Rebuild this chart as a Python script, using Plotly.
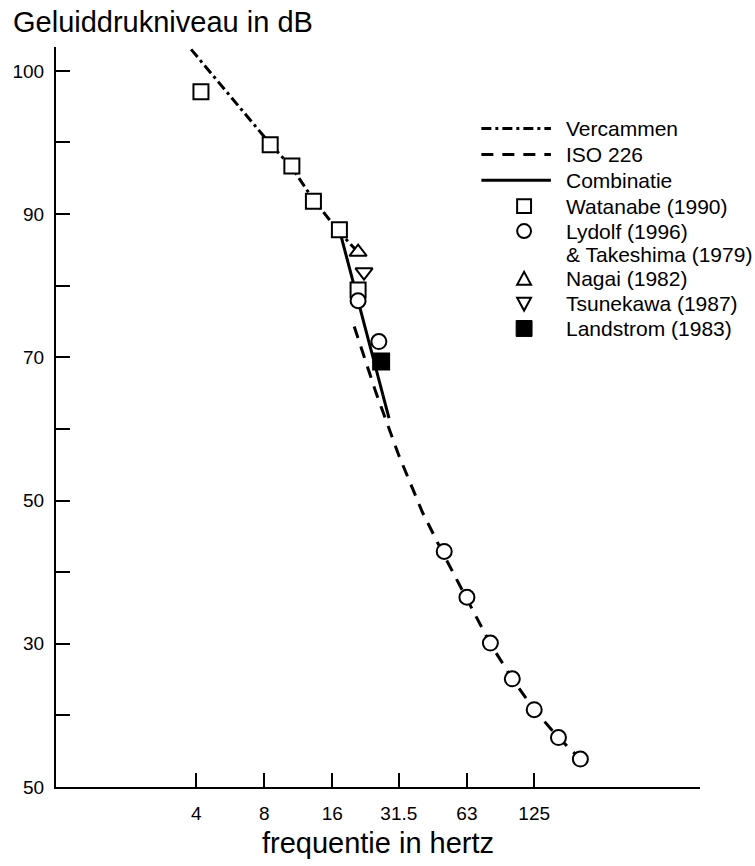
import plotly.graph_objects as go

# ---------------- data ----------------
vercammen_f = [3.8, 8.4, 10.6, 13.2, 17.2, 20.6]
vercammen_db = [113.0, 100.0, 96.5, 92.0, 87.5, 84.8]

iso_f = [20, 25, 31.5, 40, 50, 63, 80, 100, 125, 160, 200]
iso_db = [74.3, 65.0, 56.3, 48.4, 42.3, 36.2, 30.0, 25.1, 20.8, 16.9, 13.9]

comb_f = [17.2, 20.9, 25.0, 28.5]
comb_db = [87.8, 77.5, 68.3, 61.5]

watanabe_f = [4.2, 8.5, 10.6, 13.2, 17.2, 20.8]
watanabe_db = [107.1, 99.7, 96.7, 91.8, 87.8, 79.4]

lydolf_f = [20.8, 25.7, 50, 63, 80, 100, 125, 160, 200]
lydolf_db = [77.9, 72.2, 42.9, 36.5, 30.1, 25.1, 20.8, 16.9, 13.9]

nagai_f = [20.8]
nagai_db = [84.7]

tsunekawa_f = [22.1]
tsunekawa_db = [81.9]

landstrom_f = [26.3]
landstrom_db = [69.4]

x_tickvals = [4, 8, 16, 31.5, 63, 125]
x_ticktext = ["4", "8", "16", "31.5", "63", "125"]

y_tickvals = [110, 100, 90, 80, 70, 60, 50, 40, 30, 20, 10]
y_ticktext = ["100", "", "90", "", "70", "", "50", "", "30", "", "50"]

legend_labels = ["Vercammen", "ISO 226", "Combinatie", "Watanabe (1990)", "Lydolf (1996)",
                 "& Takeshima (1979)", "Nagai (1982)", "Tsunekawa (1987)", "Landstrom (1983)"]

FONT = "Liberation Sans, Arial, Helvetica, sans-serif"
VD = "10px,4px,3px,4px"
ID = "12px,9px"

# plot area in pixels
L, R, T, B = 52, 700, 47, 791
W, H = R - L, B - T


def px(x):
    return (x - L) / W


def py(y):
    return (B - y) / H


fig = go.Figure()

fig.add_trace(go.Scatter(x=vercammen_f, y=vercammen_db, mode="lines", name="Vercammen",
                         line=dict(color="black", width=3, dash=VD)))
fig.add_trace(go.Scatter(x=iso_f, y=iso_db, mode="lines", name="ISO 226",
                         line=dict(color="black", width=3, dash=ID)))
fig.add_trace(go.Scatter(x=comb_f, y=comb_db, mode="lines", name="Combinatie",
                         line=dict(color="black", width=3)))


def mk(sym, fill="white", size=15):
    return dict(symbol=sym, size=size, color=fill, line=dict(color="black", width=2))


fig.add_trace(go.Scatter(x=watanabe_f, y=watanabe_db, mode="markers", name="Watanabe (1990)",
                         marker=mk("square")))
fig.add_trace(go.Scatter(x=lydolf_f, y=lydolf_db, mode="markers",
                         name="Lydolf (1996) & Takeshima (1979)", marker=mk("circle")))
fig.add_trace(go.Scatter(x=nagai_f, y=nagai_db, mode="markers", name="Nagai (1982)",
                         marker=mk("triangle-up")))
fig.add_trace(go.Scatter(x=tsunekawa_f, y=tsunekawa_db, mode="markers", name="Tsunekawa (1987)",
                         marker=mk("triangle-down")))
fig.add_trace(go.Scatter(x=landstrom_f, y=landstrom_db, mode="markers", name="Landstrom (1983)",
                         marker=mk("square", fill="black", size=16)))

# ---------------- hand-drawn legend (key) ----------------
shapes = []
annotations = []
row_y = [129, 155, 181, 207, 232, 256, 280, 305, 330]
sx0, sx1, mx, tx = 480, 550, 523, 563

for yy, dash in zip(row_y[:3], [VD, ID, "solid"]):
    shapes.append(dict(type="line", xref="paper", yref="paper",
                       x0=px(sx0), x1=px(sx1), y0=py(yy), y1=py(yy),
                       line=dict(color="black", width=3, dash=dash)))

h = 7
# square
shapes.append(dict(type="rect", xref="paper", yref="paper",
                   x0=px(mx - h), x1=px(mx + h), y0=py(row_y[3] + h), y1=py(row_y[3] - h),
                   line=dict(color="black", width=2), fillcolor="white"))
# circle
shapes.append(dict(type="circle", xref="paper", yref="paper",
                   x0=px(mx - h), x1=px(mx + h), y0=py(row_y[4] + h), y1=py(row_y[4] - h),
                   line=dict(color="black", width=2), fillcolor="white"))
# triangle up
yc = row_y[6]
shapes.append(dict(type="path", xref="paper", yref="paper",
                   path=f"M {px(mx - h)} {py(yc + 6)} L {px(mx + h)} {py(yc + 6)} L {px(mx)} {py(yc - 7)} Z",
                   line=dict(color="black", width=2), fillcolor="white"))
# triangle down
yc = row_y[7]
shapes.append(dict(type="path", xref="paper", yref="paper",
                   path=f"M {px(mx - h)} {py(yc - 6)} L {px(mx + h)} {py(yc - 6)} L {px(mx)} {py(yc + 7)} Z",
                   line=dict(color="black", width=2), fillcolor="white"))
# filled square
yc = row_y[8]
shapes.append(dict(type="rect", xref="paper", yref="paper",
                   x0=px(mx - 8), x1=px(mx + 8), y0=py(yc + 8), y1=py(yc - 8),
                   line=dict(color="black", width=1), fillcolor="black"))

for yy, lab in zip(row_y, legend_labels):
    annotations.append(dict(text=lab, xref="paper", yref="paper", x=px(tx), y=py(yy),
                            xanchor="left", yanchor="middle", showarrow=False,
                            font=dict(size=21, family=FONT, color="black")))

fig.update_layout(
    width=755, height=866,
    margin=dict(l=L, r=755 - R, t=T, b=866 - B),
    paper_bgcolor="white", plot_bgcolor="white",
    font=dict(family=FONT, color="black", size=19),
    title=dict(text="Geluiddrukniveau in dB", x=13/755, xanchor="left", xref="container",
               y=1 - 22/866, yanchor="middle", yref="container",
               font=dict(size=29, family=FONT, color="black")),
    showlegend=False,
    shapes=shapes,
    annotations=annotations,
)

fig.update_xaxes(
    type="log", range=[-0.0177, 2.83],
    tickvals=x_tickvals, ticktext=x_ticktext,
    ticks="inside", ticklen=14, tickwidth=2, tickcolor="black",
    showline=True, linecolor="black", linewidth=2,
    showgrid=False, zeroline=False,
    tickfont=dict(size=19, family=FONT), ticklabelstandoff=8,
    title=dict(text="frequentie in hertz", font=dict(size=29, family=FONT), standoff=10),
)
fig.update_yaxes(
    range=[10, 10 + (B - T) / 7.2],
    tickvals=y_tickvals, ticktext=y_ticktext,
    ticks="inside", ticklen=14, tickwidth=2, tickcolor="black",
    showline=True, linecolor="black", linewidth=2,
    showgrid=False, zeroline=False,
    tickfont=dict(size=19, family=FONT), ticklabelstandoff=6,
)

fig.write_html("out.html")
